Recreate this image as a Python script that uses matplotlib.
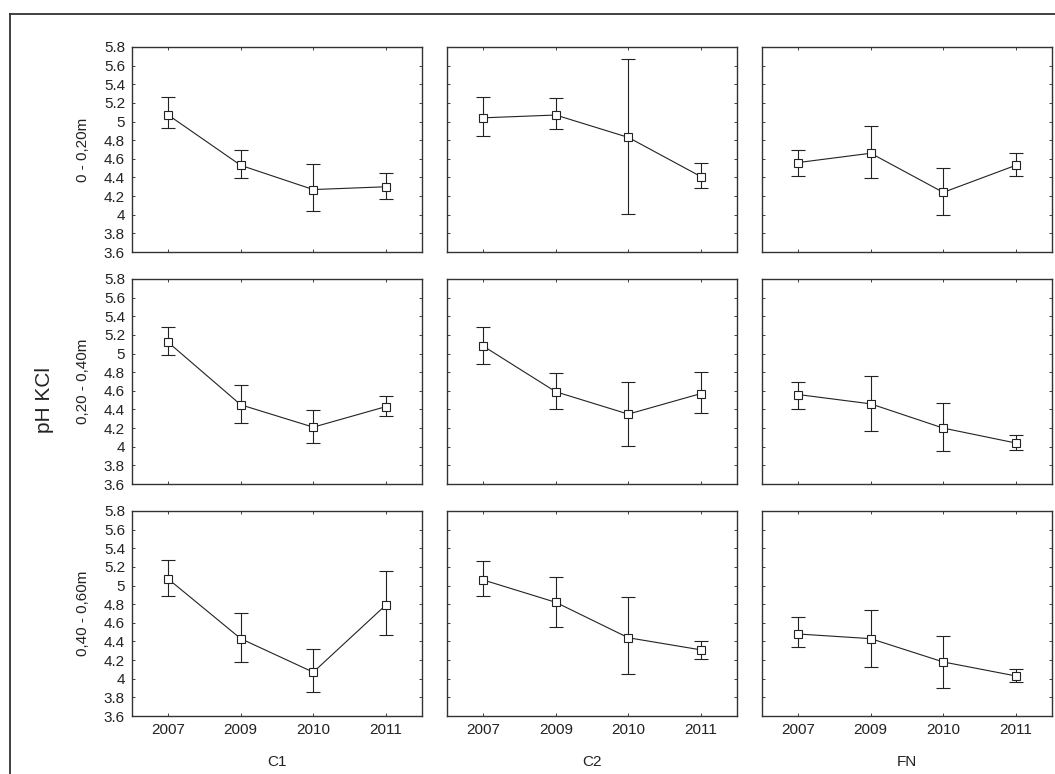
import matplotlib
matplotlib.use("Agg")
import matplotlib.pyplot as plt
from matplotlib.lines import Line2D

plt.rcParams['font.family'] = ['Liberation Sans', 'DejaVu Sans']

years = ['2007', '2009', '2010', '2011']
sites = ['C1', 'C2', 'FN']
depths = ['0 - 0,20m', '0,20 - 0,40m', '0,40 - 0,60m']
yticks = [3.6, 3.8, 4.0, 4.2, 4.4, 4.6, 4.8, 5.0, 5.2, 5.4, 5.6, 5.8]

# rows = depths, columns = years
c1_mean = [[5.07, 4.53, 4.27, 4.30], [5.12, 4.45, 4.21, 4.43], [5.07, 4.43, 4.07, 4.79]]
c1_hi = [[5.26, 4.70, 4.54, 4.45], [5.28, 4.66, 4.39, 4.54], [5.27, 4.71, 4.32, 5.16]]
c1_lo = [[4.93, 4.39, 4.04, 4.17], [4.98, 4.26, 4.04, 4.33], [4.89, 4.18, 3.86, 4.47]]

c2_mean = [[5.04, 5.07, 4.83, 4.41], [5.08, 4.59, 4.35, 4.57], [5.06, 4.82, 4.44, 4.31]]
c2_hi = [[5.26, 5.25, 5.67, 4.55], [5.28, 4.79, 4.70, 4.80], [5.26, 5.09, 4.88, 4.41]]
c2_lo = [[4.85, 4.92, 4.01, 4.29], [4.89, 4.40, 4.01, 4.36], [4.89, 4.55, 4.05, 4.21]]

fn_mean = [[4.56, 4.66, 4.24, 4.53], [4.56, 4.46, 4.20, 4.04], [4.48, 4.43, 4.18, 4.03]]
fn_hi = [[4.69, 4.95, 4.50, 4.66], [4.69, 4.76, 4.47, 4.13], [4.66, 4.74, 4.46, 4.10]]
fn_lo = [[4.42, 4.39, 4.00, 4.42], [4.41, 4.17, 3.95, 3.96], [4.34, 4.13, 3.90, 3.97]]

means = [c1_mean, c2_mean, fn_mean]
his = [c1_hi, c2_hi, fn_hi]
los = [c1_lo, c2_lo, fn_lo]

W, H = 1055, 774
fig = plt.figure(figsize=(W / 100, H / 100), dpi=100)

col_left = [132, 447, 762]
col_w = 290
row_top = [47, 279, 511]
row_h = 205
ink = '#222222'

x = list(range(len(years)))
for r in range(3):
    for c in range(3):
        ax = fig.add_axes([col_left[c] / W, 1 - (row_top[r] + row_h) / H,
                           col_w / W, row_h / H])
        m = means[c][r]
        err = [[m[i] - los[c][r][i] for i in x], [his[c][r][i] - m[i] for i in x]]
        ax.errorbar(x, m, yerr=err, color=ink, lw=0.8, elinewidth=0.8,
                    capsize=5, capthick=0.8, marker='s', markersize=5.5,
                    markerfacecolor='white', markeredgecolor=ink,
                    markeredgewidth=0.8)
        ax.set_xlim(-0.5, 3.5)
        ax.set_ylim(3.6, 5.8)
        ax.set_yticks(yticks)
        ax.set_xticks(x)
        ax.tick_params(direction='in', length=2.5, width=0.6, top=True,
                       right=True, labelsize=11, pad=5, colors='#222222')
        if c == 0:
            ax.set_yticklabels(['%g' % v for v in yticks])
            ax.set_ylabel(depths[r], fontsize=11, labelpad=10, color='#222222')
        else:
            ax.set_yticklabels([])
        if r == 2:
            ax.set_xticklabels(years)
            ax.set_xlabel(sites[c], fontsize=11, labelpad=13, color='#222222')
        else:
            ax.set_xticklabels([])
        for s in ax.spines.values():
            s.set_linewidth(1.0)
            s.set_color('#333333')

fig.text(45 / W, 1 - 400 / H, 'pH KCl', rotation=90, fontsize=15,
         ha='center', va='center', color='#222222')

# outer frame (top and left)
fig.add_artist(Line2D([10 / W, 1.0], [1 - 14 / H, 1 - 14 / H], color='#333333', lw=1.3))
fig.add_artist(Line2D([10 / W, 10 / W], [0.0, 1 - 14 / H], color='#333333', lw=1.3))

fig.savefig('out.png', dpi=100)
